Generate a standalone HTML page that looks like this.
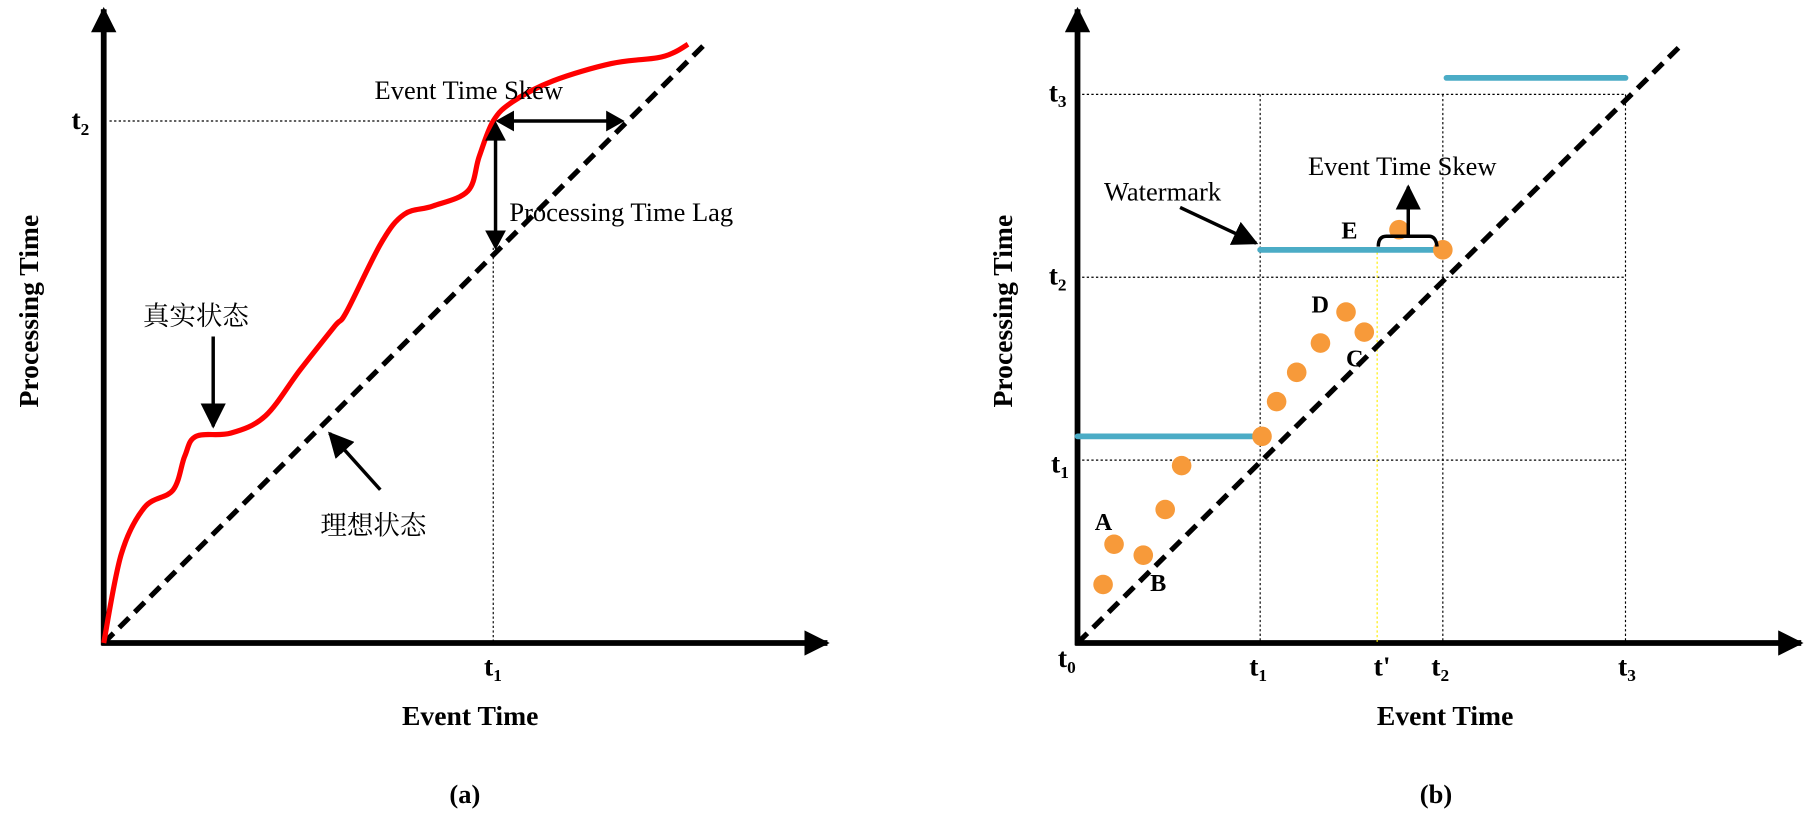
<!DOCTYPE html>
<html><head><meta charset="utf-8"><style>
html,body{margin:0;padding:0;background:#fff;}
svg{display:block;font-family:"Liberation Serif","Noto Serif CJK SC",serif;}
.b{font-weight:bold;}
</style></head><body>
<svg id="chart" width="1807" height="829" viewBox="0 0 1568 719.4" preserveAspectRatio="none">
<defs>
<marker id="ahb" markerWidth="22" markerHeight="22" refX="20" refY="11" orient="auto" markerUnits="userSpaceOnUse" viewBox="0 0 22 22"><path d="M0,0 L22,11 L0,22 Z" fill="#000"/></marker>
</defs>

<!-- PANEL A -->
<g>
<line x1="90" y1="560" x2="90" y2="8" stroke="#000" stroke-width="5" marker-end="url(#ahb)"/>
<line x1="88" y1="558" x2="718" y2="558" stroke="#000" stroke-width="5" marker-end="url(#ahb)"/>
<line x1="95" y1="105" x2="430" y2="105" stroke="#000" stroke-width="1" stroke-dasharray="2,2"/>
<line x1="428" y1="215" x2="428" y2="558" stroke="#000" stroke-width="1" stroke-dasharray="2,2"/>
<line x1="90" y1="558" x2="612" y2="38" stroke="#000" stroke-width="4.5" stroke-dasharray="12,7"/>
<path id="redcurve" fill="none" stroke="#f00" stroke-width="4.5"/>
<line x1="440" y1="105" x2="530" y2="105" stroke="#000" stroke-width="3"/>
<path d="M430,105 L446,96 L446,114 Z M542,105 L526,96 L526,114 Z" fill="#000"/>
<line x1="430" y1="115" x2="430" y2="205" stroke="#000" stroke-width="3"/>
<path d="M430,105 L421,122 L439,122 Z M430,217 L421,200 L439,200 Z" fill="#000"/>
<text x="325" y="86" font-size="23">Event Time Skew</text>
<text x="442" y="192" font-size="23">Processing Time Lag</text>
<text x="124" y="282" font-size="23">真实状态</text>
<line x1="185" y1="292" x2="185" y2="370" stroke="#000" stroke-width="3" marker-end="url(#ahb)"/>
<text x="278" y="464" font-size="23">理想状态</text>
<line x1="330" y1="425" x2="286" y2="376" stroke="#000" stroke-width="3" marker-end="url(#ahb)"/>
<text x="62" y="112" font-size="24" class="b">t<tspan font-size="15" dy="5">2</tspan></text>
<text x="420" y="586" font-size="24" class="b">t<tspan font-size="15" dy="5">1</tspan></text>
<text x="408" y="629" font-size="24" class="b" text-anchor="middle">Event Time</text>
<text transform="translate(33,270) rotate(-90)" font-size="24" class="b" text-anchor="middle">Processing Time</text>
<text x="390" y="697" font-size="23" class="b">(a)</text>
</g>

<!-- PANEL B -->
<g id="pb">
<line x1="935" y1="560" x2="935" y2="8" stroke="#000" stroke-width="5" marker-end="url(#ahb)"/>
<line x1="933" y1="558" x2="1563" y2="558" stroke="#000" stroke-width="5" marker-end="url(#ahb)"/>
<g id="grid" stroke="#000" stroke-width="1" stroke-dasharray="2,2"></g>
<line x1="1195" y1="215" x2="1195" y2="558" stroke="#ffee00" stroke-width="1" stroke-dasharray="2,2"/>
<line x1="935" y1="558" x2="1460" y2="38" stroke="#000" stroke-width="4.5" stroke-dasharray="12,7"/>
<g id="wm"></g>
<g id="dots"></g>
<path d="M1196,214 Q1196,205 1203,205 L1240,205 Q1246,205 1247,214" fill="none" stroke="#000" stroke-width="3"/>
<line x1="1222" y1="205" x2="1222" y2="162" stroke="#000" stroke-width="3" marker-end="url(#ahb)"/>
<text x="1135" y="152" font-size="23">Event Time Skew</text>
<text x="958" y="174" font-size="23">Watermark</text>
<line x1="1024" y1="180" x2="1090" y2="211" stroke="#000" stroke-width="3" marker-end="url(#ahb)"/>
<g class="b" font-size="21">
<text x="950" y="460">A</text>
<text x="998" y="513">B</text>
<text x="1168" y="318">C</text>
<text x="1138" y="271">D</text>
<text x="1164" y="207">E</text>
</g>
<g class="b" font-size="24" id="ticks">
<text x="910" y="88">t<tspan font-size="15" dy="5">3</tspan></text>
<text x="910" y="247">t<tspan font-size="15" dy="5">2</tspan></text>
<text x="912" y="410">t<tspan font-size="15" dy="5">1</tspan></text>
<text x="918" y="579">t<tspan font-size="15" dy="5">0</tspan></text>
<text x="1084" y="586">t<tspan font-size="15" dy="5">1</tspan></text>
<text x="1192" y="586">t'</text>
<text x="1242" y="586">t<tspan font-size="15" dy="5">2</tspan></text>
<text x="1404" y="586">t<tspan font-size="15" dy="5">3</tspan></text>
</g>
<text x="1254" y="629" font-size="24" class="b" text-anchor="middle">Event Time</text>
<text transform="translate(878,270) rotate(-90)" font-size="24" class="b" text-anchor="middle">Processing Time</text>
<text x="1232" y="697" font-size="23" class="b">(b)</text>
</g>
</svg>
<script>
// Panel A actual curve (event time, processing time) in plot units: t1=1 (x), t2=1 (y)
const curveX=[0,0.045,0.105,0.178,0.208,0.237,0.326,0.415,0.504,0.593,0.623,0.712,0.771,0.845,0.935,0.964,1.0,1.05,1.154,1.303,1.421,1.466,1.5];
const curveY=[0,0.17,0.26,0.293,0.358,0.396,0.402,0.435,0.523,0.607,0.634,0.766,0.821,0.837,0.866,0.932,1.0,1.037,1.077,1.11,1.121,1.132,1.147];
// Panel B: units where t1=1,t2=2,t3=3
const gridTicks=[1,2,3];
const eventX=[0.14,0.2,0.36,0.48,0.57,1.01,1.09,1.2,1.33,1.47,1.57,1.76,2.0];
const eventY=[0.32,0.54,0.48,0.73,0.97,1.13,1.32,1.48,1.64,1.81,1.7,2.26,2.15];
const wmStart=[0,1,2.02];
const wmEnd=[1,2,3];
const wmLevel=[1.13,2.15,3.09];

const ax=v=>90+v*338, ay=v=>558-v*453;
const pts=curveX.map((v,i)=>[ax(v),ay(curveY[i])]);
let d='M'+pts[0][0]+','+pts[0][1];
for(let i=0;i<pts.length-1;i++){
  const p0=pts[Math.max(0,i-1)],p1=pts[i],p2=pts[i+1],p3=pts[Math.min(pts.length-1,i+2)];
  const c1=[p1[0]+(p2[0]-p0[0])/6,p1[1]+(p2[1]-p0[1])/6];
  const c2=[p2[0]-(p3[0]-p1[0])/6,p2[1]-(p3[1]-p1[1])/6];
  d+=' C'+c1[0]+','+c1[1]+' '+c2[0]+','+c2[1]+' '+p2[0]+','+p2[1];
}
document.getElementById('redcurve').setAttribute('d',d);

const bx=v=>935+v*158.5, by=v=>558-v*158.7;
const NS='http://www.w3.org/2000/svg';
const grid=document.getElementById('grid');
gridTicks.forEach(t=>{
  const v=document.createElementNS(NS,'line');
  v.setAttribute('x1',bx(t));v.setAttribute('x2',bx(t));v.setAttribute('y1',by(3));v.setAttribute('y2',by(0));
  
  
  grid.appendChild(v);
  const h=document.createElementNS(NS,'line');
  h.setAttribute('x1',bx(0));h.setAttribute('x2',bx(3));h.setAttribute('y1',by(t));h.setAttribute('y2',by(t));
  
  
  grid.appendChild(h);
});
const wm=document.getElementById('wm');
wmLevel.forEach((lv,i)=>{
  const l=document.createElementNS(NS,'line');
  l.setAttribute('x1',bx(wmStart[i]));l.setAttribute('x2',bx(wmEnd[i]));
  l.setAttribute('y1',by(lv));l.setAttribute('y2',by(lv));
  l.setAttribute('stroke','#4bacc6');l.setAttribute('stroke-width','5');l.setAttribute('stroke-linecap','round');
  
  
  wm.appendChild(l);
});
const dots=document.getElementById('dots');
eventX.forEach((x,i)=>{
  const c=document.createElementNS(NS,'circle');
  c.setAttribute('cx',bx(x));c.setAttribute('cy',by(eventY[i]));c.setAttribute('r','8.5');
  c.setAttribute('fill','#f79a3a');
  
  
  dots.appendChild(c);
});
</script>
</body></html>
